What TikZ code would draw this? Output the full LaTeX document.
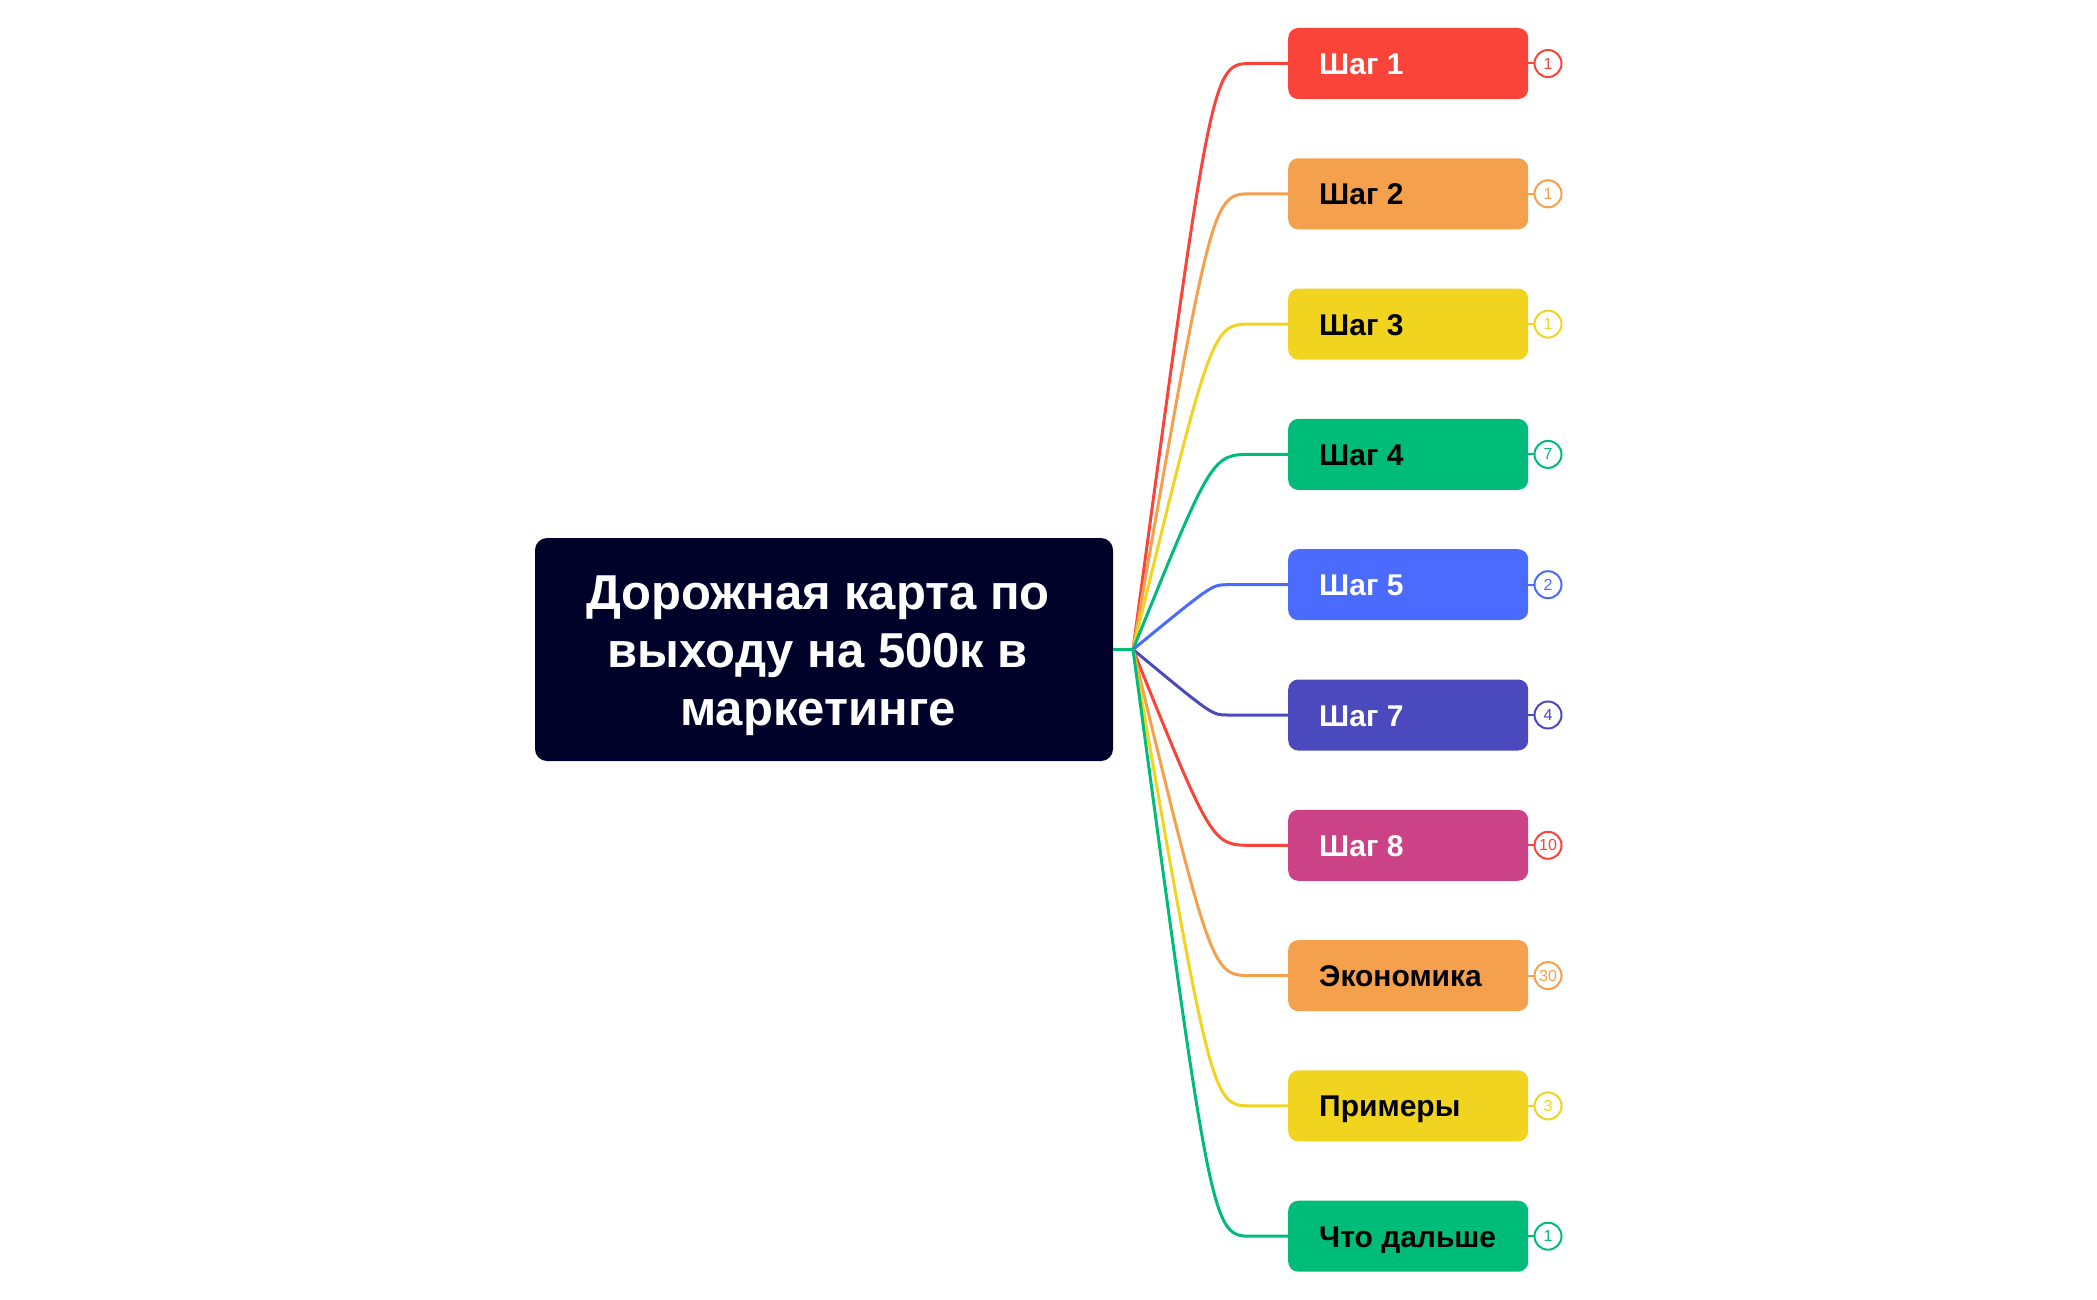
\documentclass[tikz,border=0pt]{standalone}
\usepackage{fontspec}
\setmainfont{Liberation Sans}
\definecolor{cred}{HTML}{FA443A}
\definecolor{corange}{HTML}{F5A04D}
\definecolor{cyellow}{HTML}{F1D420}
\definecolor{cgreen}{HTML}{00BC7A}
\definecolor{cblue}{HTML}{4A6BFD}
\definecolor{cindigo}{HTML}{4B49BE}
\definecolor{cpink}{HTML}{CC4287}
\definecolor{cnavy}{HTML}{000229}
\begin{document}
\begin{tikzpicture}[x=1pt,y=-1pt,
  topic/.style={rectangle, rounded corners=10pt, minimum height=71pt, minimum width=240pt,
    inner xsep=31pt, inner ysep=0pt, anchor=west, text height=22pt, text depth=0pt,
    font=\fontsize{30}{36}\selectfont\bfseries},
  badge/.style={circle, draw, line width=2pt, minimum size=27pt, inner sep=0pt,
    font=\fontsize{16}{16}\selectfont, fill=white},
  link/.style={line width=3pt},
  rootbox/.style={rectangle, fill=cnavy, rounded corners=12pt, minimum width=578pt,
    minimum height=223pt},
  roottext/.style={text=white, align=center, inner sep=0pt, font=\fontsize{49}{58}\selectfont\bfseries}
]
\useasboundingbox (0,0) rectangle (2097,1300);
\node[rootbox] (root) at (824,649.5) {};
\node[roottext] (rt) at (818,656) {Дорожная карта по\\выходу на 500к в\\маркетинге};
\coordinate (J) at (1133,649.5);
\foreach \i/\lab/\fc/\tc/\lc/\num in {
0/Шаг 1/cred/white/cred/1,
1/Шаг 2/corange/black/corange/1,
2/Шаг 3/cyellow/black/cyellow/1,
3/Шаг 4/cgreen/black/cgreen/7,
4/Шаг 5/cblue/white/cblue/2,
5/Шаг 7/cindigo/white/cindigo/4,
6/Шаг 8/cpink/white/cred/10,
7/Экономика/corange/black/corange/30,
8/Примеры/cyellow/black/cyellow/3,
9/Что дальше/cgreen/black/cgreen/1}
{
  \pgfmathsetmacro\yy{63.5+130.3*\i}
  \pgfmathsetmacro\hx{abs(\yy-649)<100 ? 1227 : 1252}
  \node[topic, fill=\fc, text=\tc] (t\i) at (1288,\yy) {\makebox[178pt][l]{\lab}};
  \node[badge, draw=\lc, text=\lc] (b\i) at (1548,\yy) {\num};
  \coordinate (c\i) at (1212,\yy);
  \coordinate (h\i) at (\hx,\yy);
  \draw[link, draw=\lc] (J) .. controls (c\i) and (c\i) .. (h\i) -- (t\i.west);
  \draw[line width=2pt, draw=\lc] (t\i.east) -- (b\i.west);
}
\draw[link, cgreen] (root.east) -- (J);
\end{tikzpicture}
\end{document}
